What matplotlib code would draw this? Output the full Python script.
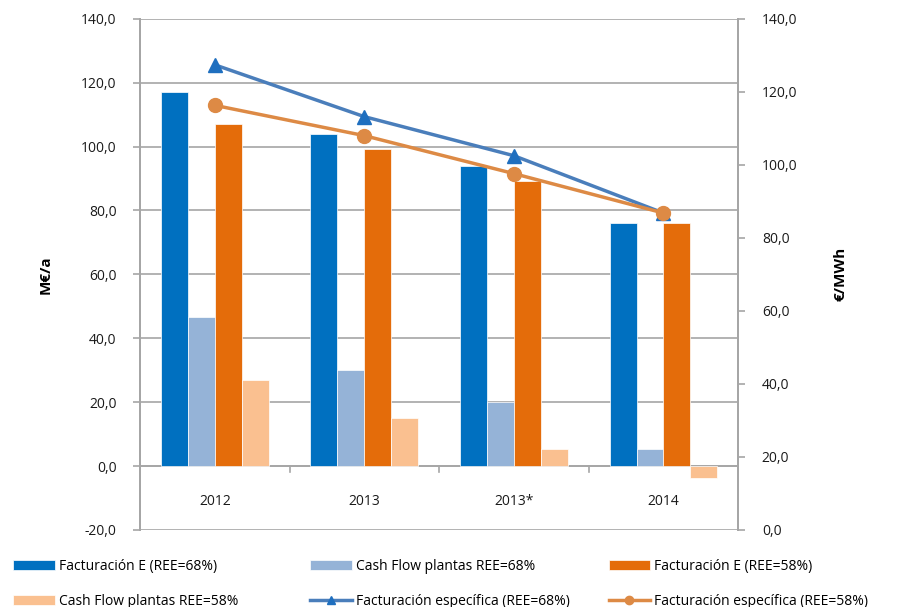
import numpy as np
import matplotlib.pyplot as plt
from matplotlib.ticker import FuncFormatter

# Datos
categorias = ['2012', '2013', '2013*', '2014']
fact_68 = [117.0, 104.0, 94.0, 76.0]
cash_68 = [46.5, 30.0, 20.0, 5.3]
fact_58 = [107.0, 99.3, 89.2, 76.0]
cash_58 = [27.0, 15.0, 5.3, -3.8]
esp_68 = [127.4, 113.2, 102.5, 86.8]
esp_58 = [116.3, 108.0, 97.6, 86.8]

plt.rcParams['font.family'] = ['Open Sans', 'DejaVu Sans']
gris = '#a6a6a6'
coma = FuncFormatter(lambda v, p: f'{v:.1f}'.replace('.', ','))

fig = plt.figure(figsize=(9.05, 6.07), dpi=100)
ax = fig.add_axes([0.1547, 0.127, 0.661, 0.842])
ax2 = ax.twinx()

x = np.arange(len(categorias))
w = 0.18
series = [(fact_68, '#0070c0', 'Facturación E (REE=68%)'),
          (cash_68, '#95b3d7', 'Cash Flow plantas REE=68%'),
          (fact_58, '#e46c0a', 'Facturación E (REE=58%)'),
          (cash_58, '#fac090', 'Cash Flow plantas REE=58%')]
barras = []
for i, (vals, col, lab) in enumerate(series):
    b = ax.bar(x + (i - 1.5) * w, vals, w, color=col, edgecolor='white',
               linewidth=0.5, label=lab, zorder=2)
    barras.append(b)

ax.set_ylim(-20, 140)
ax.set_yticks(np.arange(-20, 141, 20))
ax.yaxis.set_major_formatter(coma)
ax.set_xlim(-0.5, 3.5)
ax.set_xticks([])
ax.grid(axis='y', color=gris, linewidth=1.2, zorder=0)
ax.set_axisbelow(True)
ax.axhline(0, color=gris, linewidth=1.3, zorder=1)
for xb in [0.5, 1.5, 2.5]:
    ax.plot([xb, xb], [0, -2], color=gris, linewidth=1.2, clip_on=False)
for i, c in enumerate(categorias):
    ax.text(i, -11, c, ha='center', va='center', fontsize=10, color='#1a1a1a')

ax.set_ylabel('M€/a', fontsize=11, fontweight='bold', labelpad=20)
for a in (ax, ax2):
    for s in ['top', 'bottom']:
        a.spines[s].set_visible(False)
    a.spines['left'].set_color(gris)
    a.spines['right'].set_color(gris)
    a.spines['left'].set_linewidth(1.3)
    a.spines['right'].set_linewidth(1.3)
    a.tick_params(axis='y', colors=gris, labelcolor='#1a1a1a', labelsize=10,
                  length=5, width=1.2, pad=12)

l1, = ax2.plot(x, esp_68, color='#4a7ebb', linewidth=2.5, marker='^',
               markersize=10, markerfacecolor='#1f6fbf', markeredgecolor='#1f6fbf',
               label='Facturación específica (REE=68%)', zorder=3)
l2, = ax2.plot(x, esp_58, color='#dd8a45', linewidth=2.5, marker='o',
               markersize=10, markerfacecolor='#dd8a45', markeredgecolor='#dd8a45',
               label='Facturación específica (REE=58%)', zorder=4)
ax2.set_ylim(0, 140)
ax2.set_yticks(np.arange(0, 141, 20))
ax2.yaxis.set_major_formatter(coma)
ax2.set_ylabel('€/MWh', fontsize=11, fontweight='bold', labelpad=26)

# Leyenda en filas: tres columnas colocadas a mano
handles = barras + [l1, l2]
columnas = [(handles[0], handles[3]), (handles[1], handles[4]), (handles[2], handles[5])]
x_col = [0.0083, 0.3364, 0.6663]
for xc, hs in zip(x_col, columnas):
    leg = fig.legend(hs, [h.get_label() for h in hs], loc='upper left',
                     bbox_to_anchor=(xc, 0.089), frameon=False, fontsize=10,
                     handlelength=3.0, handletextpad=0.3, labelspacing=1.45,
                     borderaxespad=0, markerscale=0.6)

fig.savefig('out.png', dpi=100)
